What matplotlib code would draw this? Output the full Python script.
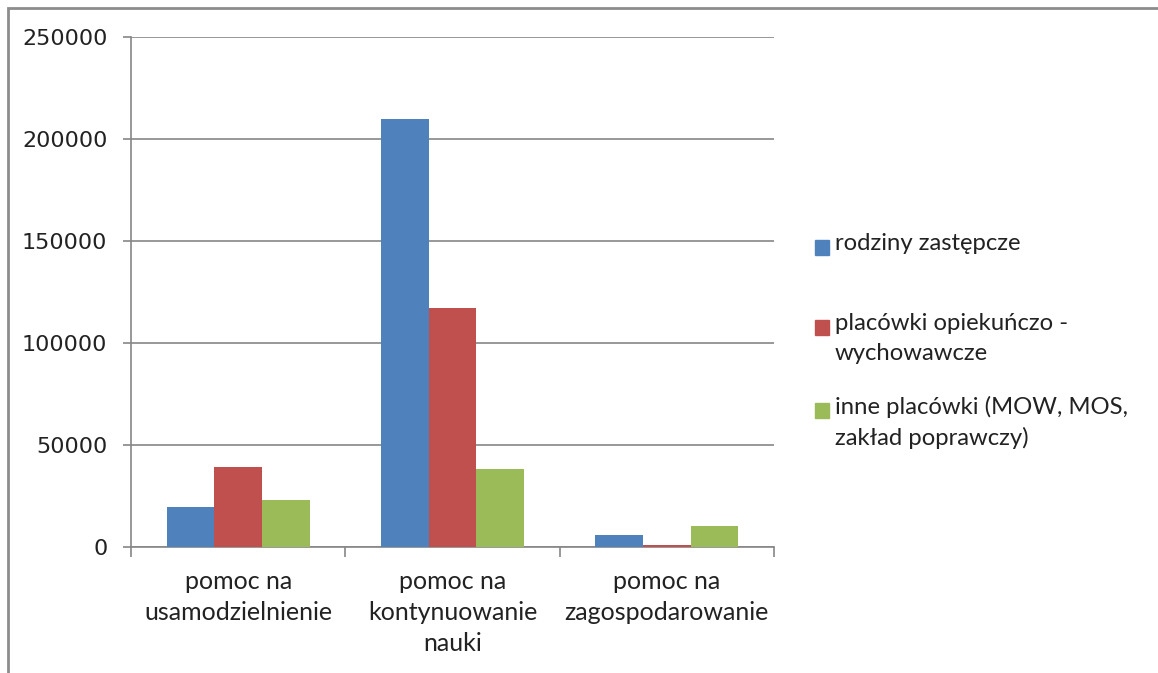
import numpy as np
import matplotlib
matplotlib.use('Agg')
import matplotlib.pyplot as plt
from matplotlib.patches import Rectangle

categories = ['pomoc na\nusamodzielnienie', 'pomoc na\nkontynuowanie\nnauki', 'pomoc na\nzagospodarowanie']
series_names = ['rodziny zastępcze', 'placówki opiekuńczo -\nwychowawcze',
                'inne placówki (MOW, MOS,\nzakład poprawczy)']
rodziny = [19700, 210000, 5800]
placowki = [39400, 117000, 850]
inne = [23000, 38200, 10300]
colors = ['#4f81bd', '#c0504d', '#9bbb59']

W, H = 1158, 673
fig = plt.figure(figsize=(W / 100, H / 100), dpi=100)
ax = fig.add_axes([131 / W, 1 - 547 / H, (774 - 131) / W, (547 - 37) / H])

x = np.arange(len(categories))
bw = 0.222
for i, vals in enumerate([rodziny, placowki, inne]):
    ax.bar(x + (i - 1) * bw, vals, bw, color=colors[i], zorder=3)

grid_c = '#868686'
ax.set_xlim(-0.5, 2.5)
ax.set_ylim(0, 250000)
ax.set_yticks(range(0, 250001, 50000))
ax.set_yticklabels([str(v) for v in range(0, 250001, 50000)],
                   fontsize=16, color='#222222', family='DejaVu Sans')
ax.yaxis.grid(True, color=grid_c, linewidth=1.2, zorder=0)
ax.set_xticks([-0.5, 0.5, 1.5, 2.5])
ax.set_xticklabels([])
ax.tick_params(axis='both', color=grid_c, width=1.2)
ax.tick_params(axis='y', length=6, pad=11)
ax.tick_params(axis='x', length=7)
for s in ['top', 'right']:
    ax.spines[s].set_visible(False)
for s in ['left', 'bottom']:
    ax.spines[s].set_color(grid_c)
    ax.spines[s].set_linewidth(1.2)

for i, c in enumerate(categories):
    ax.text(x[i], -0.045, c, transform=ax.get_xaxis_transform(), ha='center', va='top',
            fontsize=18, family='Lato', color='#222222', linespacing=1.42)

# legend drawn by hand
leg_y = [247, 327, 410]
for i, name in enumerate(series_names):
    fig.patches.append(Rectangle((815 / W, 1 - (leg_y[i] + 8) / H), 14 / W, 15 / H,
                                 transform=fig.transFigure, color=colors[i]))
    fig.text(835 / W, 1 - (leg_y[i] - 14) / H, name, ha='left', va='top',
             fontsize=17.2, family='Lato', color='#222222', linespacing=1.5)

# chart frame
fig.patches.append(Rectangle((8 / W, -0.1), 1.2, 1 - 8 / H + 0.1, transform=fig.transFigure,
                             fill=False, edgecolor='#8c8c8c', linewidth=2))

fig.savefig('out.png', dpi=100)
